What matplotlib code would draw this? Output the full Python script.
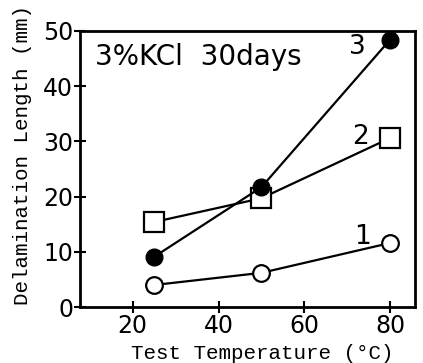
import matplotlib.pyplot as plt
import numpy as np

# test temperature (deg C) and delamination length (mm) for each curve
temps = [25, 50, 80]
curve1 = [4.0, 6.2, 11.6]
curve2 = [15.4, 19.7, 30.6]
curve3 = [9.1, 21.7, 48.4]
curve_names = ["1", "2", "3"]
xticks = [20, 40, 60, 80]
yticks = [0, 10, 20, 30, 40, 50]

fig = plt.figure(figsize=(4.23, 3.63), dpi=100)
ax = fig.add_axes([0.189, 0.154, 0.792, 0.761])

lw = 1.6
ax.plot(temps, curve1, color="black", lw=lw, marker="o", ms=12,
        mfc="white", mec="black", mew=1.6, zorder=3)
ax.plot(temps, curve2, color="black", lw=lw, marker="s", ms=14,
        mfc="white", mec="black", mew=1.6, zorder=3)
ax.plot(temps, curve3, color="black", lw=lw, marker="o", ms=12,
        mfc="black", mec="black", zorder=4)

# curve numbers next to the last points
ax.text(73.6, curve1[-1] + 1.1, curve_names[0], fontsize=19, ha="center", va="center")
ax.text(73.0, curve2[-1] + 0.2, curve_names[1], fontsize=19, ha="center", va="center")
ax.text(72.4, curve3[-1] - 1.4, curve_names[2], fontsize=19, ha="center", va="center")

ax.text(11.2, 45.3, "3%KCl  30days", fontsize=20, ha="left", va="center")

ax.set_xlim(7.7, 85.8)
ax.set_ylim(0, 50)
ax.set_xticks(xticks)
ax.set_yticks(yticks)
ax.tick_params(direction="inout", length=8, width=1.5, labelsize=17, pad=1)
for s in ax.spines.values():
    s.set_linewidth(2)

mono = "Liberation Mono"
ax.set_xlabel("Test Temperature (\u00b0C)", family=mono, fontsize=15)
ax.set_ylabel("Delamination Length (mm)", family=mono, fontsize=15)
ax.xaxis.set_label_coords(0.543, -0.132)
ax.yaxis.set_label_coords(-0.143, 0.55)

fig.savefig("out.png", dpi=100)
